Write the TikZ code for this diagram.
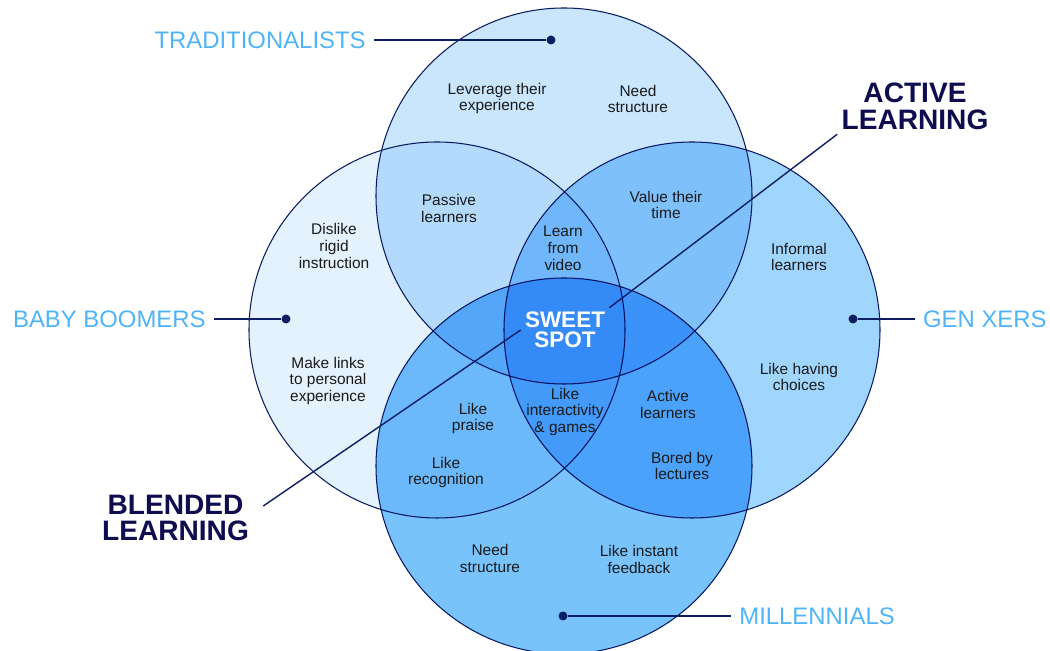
\documentclass[tikz,border=0pt]{standalone}
\usepackage{fontspec}
\setmainfont{Liberation Sans}
\usetikzlibrary{positioning}
\definecolor{navy}{RGB}{14,30,100}
\definecolor{ink}{RGB}{13,13,80}
\definecolor{tagblue}{RGB}{79,180,247}
\definecolor{textgray}{RGB}{26,26,26}
\definecolor{boomfill}{RGB}{228,242,254}
\definecolor{tradfill}{RGB}{201,230,253}
\definecolor{genxfill}{RGB}{160,213,253}
\definecolor{millfill}{RGB}{120,195,252}

\begin{document}
\begin{tikzpicture}[
  gen/.style   = {circle, minimum size=7.52cm, inner sep=0pt, draw=navy,
                  line width=0.6pt, blend mode=multiply},
  note/.style  = {align=center, text=textgray, inner sep=2pt,
                  font=\fontsize{8.8}{9.6}\selectfont},
  tag/.style   = {text=tagblue, inner ysep=2pt, inner xsep=0.16cm,
                  font=\fontsize{13.6}{16}\selectfont},
  head/.style  = {align=center, text=ink, inner sep=0.08cm,
                  font=\fontsize{16}{15.3}\selectfont\bfseries},
  sweet/.style = {align=center, text=white, inner sep=0.08cm,
                  font=\fontsize{12.8}{11.3}\selectfont\bfseries},
  dot/.style   = {circle, fill=navy, minimum size=0.18cm, inner sep=0pt},
  lead/.style  = {navy, line width=0.8pt}
]
\useasboundingbox (0,0) rectangle (21,13.02);

\node[gen, fill=boomfill] (boom) at (8.74, 6.42) {};
\node[gen, fill=tradfill] (trad) at (11.28,9.10) {};
\node[gen, fill=genxfill] (genx) at (13.84,6.42) {};
\node[gen, fill=millfill] (mill) at (11.28,3.70) {};

\node[note] (lev)      at (9.94, 11.05) {Leverage their\\experience};
\node[note] (needtop)  at (12.76,11.04) {Need\\structure};
\node[note] (passive)  at (8.98, 8.85)  {Passive\\learners};
\node[note] (dislike)  at (6.68, 8.10)  {Dislike\\rigid\\instruction};
\node[note] (video)    at (11.26,8.06)  {Learn\\from\\video};
\node[note] (value)    at (13.32,8.92)  {Value their\\time};
\node[note] (informal) at (15.98,7.88)  {Informal\\learners};
\node[note] (links)    at (6.56, 5.40)  {Make links\\to personal\\experience};
\node[note] (praise)   at (9.46, 4.65)  {Like\\praise};
\node[note] (games)    at (11.30,4.78)  {Like\\interactivity\\\& games};
\node[note] (activeln) at (13.36,4.93)  {Active\\learners};
\node[note] (choices)  at (15.98,5.48)  {Like having\\choices};
\node[note] (recog)    at (8.92, 3.57)  {Like\\recognition};
\node[note] (bored)    at (13.64,3.70)  {Bored by\\lectures};
\node[note] (needbot)  at (9.80, 1.85)  {Need\\structure};
\node[note] (feedback) at (12.78,1.83)  {Like instant\\feedback};

\node[sweet] (spot) at (11.30,6.42) {SWEET\\SPOT};

\node[dot] (tdot) at (11.02,12.22) {};
\node[dot] (bdot) at (5.72, 6.64)  {};
\node[dot] (gdot) at (17.06,6.64)  {};
\node[dot] (mdot) at (11.26,0.70)  {};

\node[tag, anchor=east] (tradtag) at (7.48, 12.22) {TRADITIONALISTS};
\node[tag, anchor=east] (boomtag) at (4.28, 6.64)  {BABY BOOMERS};
\node[tag, anchor=east] (genxtag) at (21.10,6.64)  {GEN XERS};
\node[tag, anchor=west] (milltag) at (14.62,0.70)  {MILLENNIALS};

\draw[lead] (tradtag) -- (tdot);
\draw[lead] (boomtag) -- (bdot);
\draw[lead] (gdot) -- (genxtag);
\draw[lead] (mdot) -- (milltag);

\node[head] (active)  at (18.30,10.89) {ACTIVE\\LEARNING};
\node[head] (blended) at (3.51, 2.66)  {BLENDED\\LEARNING};

\draw[lead] (active.south west) -- (spot.north east);
\draw[lead] ([shift={(0.2,0.24)}]blended.east) -- (spot.west);
\end{tikzpicture}
\end{document}
